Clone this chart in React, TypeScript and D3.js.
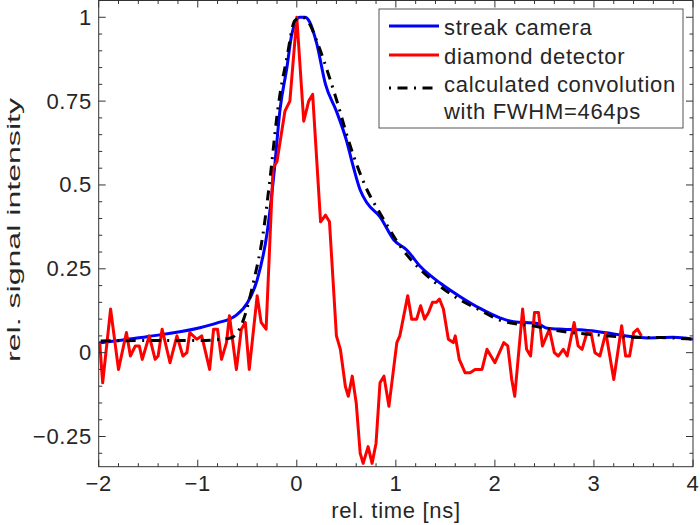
import { useEffect, useRef } from 'react'
import * as d3 from 'd3'

// streak camera (blue)
const streakTime = [-2, -1.5, -1, -0.81, -0.61, -0.5, -0.4, -0.3, -0.23, -0.17, -0.1, -0.05, 0.03, 0.08, 0.13, 0.2, 0.29, 0.4, 0.5, 0.57, 0.64, 0.71, 0.84, 0.98, 1.11, 1.25, 1.45, 1.65, 1.85, 2.05, 2.19, 2.42, 2.53, 2.69, 2.86, 3.03, 3.2, 3.37, 3.54, 3.8, 4]
const streakValue = [0.029, 0.048, 0.073, 0.088, 0.112, 0.148, 0.217, 0.357, 0.535, 0.723, 0.85, 0.95, 1.0, 1.0, 0.986, 0.923, 0.8, 0.72, 0.634, 0.555, 0.485, 0.446, 0.405, 0.336, 0.306, 0.256, 0.207, 0.167, 0.132, 0.104, 0.092, 0.088, 0.073, 0.07, 0.068, 0.063, 0.056, 0.048, 0.044, 0.046, 0.04]

// diamond detector (red)
const diamondTime = [-1.99, -1.96, -1.88, -1.8, -1.72, -1.68, -1.63, -1.59, -1.56, -1.49, -1.43, -1.4, -1.36, -1.28, -1.21, -1.15, -1.11, -1.08, -1.01, -0.96, -0.88, -0.84, -0.8, -0.76, -0.71, -0.68, -0.61, -0.56, -0.52, -0.48, -0.4, -0.36, -0.31, -0.24, -0.2, -0.12, -0.07, 0.0, 0.07, 0.12, 0.16, 0.24, 0.29, 0.33, 0.4, 0.44, 0.49, 0.52, 0.56, 0.6, 0.64, 0.67, 0.72, 0.76, 0.8, 0.84, 0.88, 0.93, 1.01, 1.04, 1.12, 1.16, 1.21, 1.25, 1.29, 1.33, 1.37, 1.41, 1.44, 1.48, 1.53, 1.58, 1.6, 1.64, 1.7, 1.75, 1.8, 1.87, 1.92, 2.0, 2.09, 2.13, 2.17, 2.2, 2.28, 2.32, 2.36, 2.4, 2.44, 2.48, 2.55, 2.6, 2.64, 2.69, 2.73, 2.8, 2.84, 2.88, 2.93, 2.97, 3.01, 3.06, 3.12, 3.2, 3.28, 3.32, 3.36, 3.4, 3.44, 3.48]
const diamondValue = [0.03, -0.09, 0.13, -0.05, 0.06, -0.01, 0.02, 0.02, -0.02, 0.05, -0.02, -0.01, 0.07, -0.03, 0.05, -0.01, 0.0, 0.06, 0.04, 0.05, -0.05, 0.07, 0.07, -0.02, 0.03, 0.11, -0.05, 0.07, 0.09, -0.05, 0.17, 0.09, 0.07, 0.55, 0.57, 0.72, 0.75, 1.0, 0.69, 0.75, 0.77, 0.39, 0.41, 0.39, 0.05, 0.01, -0.1, -0.13, -0.07, -0.15, -0.3, -0.33, -0.28, -0.33, -0.27, -0.09, -0.07, -0.16, 0.03, 0.05, 0.17, 0.1, 0.1, 0.14, 0.1, 0.12, 0.15, 0.15, 0.16, 0.13, 0.04, 0.03, 0.05, -0.02, -0.06, -0.06, -0.05, -0.05, 0.01, -0.03, 0.03, 0.02, -0.08, -0.13, 0.13, 0.01, -0.01, 0.12, 0.12, 0.02, 0.07, 0.0, -0.01, 0.01, -0.01, 0.09, 0.02, 0.01, 0.06, 0.06, 0.0, -0.01, 0.06, -0.08, 0.08, -0.01, -0.01, 0.06, 0.07, 0.05]

// calculated convolution (black dash-dot)
const convTime = [-1.98, -1.5, -1.0, -0.67, -0.54, -0.44, -0.34, -0.27, -0.19, -0.1, -0.02, 0.05, 0.13, 0.2, 0.4, 0.53, 0.71, 0.84, 1.05, 1.25, 1.45, 1.65, 1.85, 2.05, 2.42, 2.69, 3.03, 3.37, 3.67, 4]
const convValue = [0.035, 0.036, 0.036, 0.044, 0.097, 0.207, 0.356, 0.52, 0.73, 0.88, 0.99, 1.0, 0.98, 0.93, 0.755, 0.625, 0.485, 0.416, 0.315, 0.247, 0.197, 0.157, 0.127, 0.097, 0.078, 0.063, 0.053, 0.046, 0.045, 0.04]

const xTicks = [-2, -1, 0, 1, 2, 3, 4]
const yTicks = [-0.25, 0, 0.25, 0.5, 0.75, 1]
const legendLabels = ['streak camera', 'diamond detector', 'calculated convolution', 'with FWHM=464ps']

const FONT = '"Liberation Sans", Arial, sans-serif'
const AXIS = '#333333'

export default function App() {
  const svgRef = useRef<SVGSVGElement>(null)

  useEffect(() => {
    if (!svgRef.current) return
    const svg = d3.select(svgRef.current)
    svg.selectAll('*').remove()

    const left = 98.7, right = 693, top = 0.5, bottom = 466.7
    const x = d3.scaleLinear().domain([-2, 4]).range([left, right])
    const y = d3.scaleLinear().domain([-0.34, 1.05]).range([bottom, top])

    svg.append('defs').append('clipPath').attr('id', 'plot-clip')
      .append('rect').attr('x', left).attr('y', top).attr('width', right - left).attr('height', bottom - top)

    const line = d3.line<[number, number]>()
      .x(d => x(d[0]))
      .y(d => y(d[1]))

    const plot = svg.append('g').attr('clip-path', 'url(#plot-clip)')

    plot.append('path')
      .datum(streakTime.map((t, i) => [t, streakValue[i]] as [number, number]))
      .attr('fill', 'none')
      .attr('stroke', '#0000ff')
      .attr('stroke-width', 3)
      .attr('d', line.curve(d3.curveMonotoneX))

    plot.append('path')
      .datum(diamondTime.map((t, i) => [t, diamondValue[i]] as [number, number]))
      .attr('fill', 'none')
      .attr('stroke', '#ff0000')
      .attr('stroke-width', 3)
      .attr('stroke-linejoin', 'round')
      .attr('d', line.curve(d3.curveLinear))

    plot.append('path')
      .datum(convTime.map((t, i) => [t, convValue[i]] as [number, number]))
      .attr('fill', 'none')
      .attr('stroke', '#000000')
      .attr('stroke-width', 3)
      .attr('stroke-dasharray', '10,6.5,2,6.5')
      .attr('d', line.curve(d3.curveMonotoneX))

    // frame
    svg.append('rect')
      .attr('x', left).attr('y', top)
      .attr('width', right - left).attr('height', bottom - top)
      .attr('fill', 'none').attr('stroke', AXIS).attr('stroke-width', 1)

    // inward ticks on all four sides
    const ticks = svg.append('g').attr('stroke', AXIS).attr('stroke-width', 1)
    const xMinor = d3.range(-2, 4.001, 0.2)
    const yMinor = d3.range(-0.3, 1.051, 0.05)
    xMinor.forEach(v => {
      const major = xTicks.some(t => Math.abs(t - v) < 1e-6)
      const len = major ? 7 : 3.5
      ticks.append('line').attr('x1', x(v)).attr('x2', x(v)).attr('y1', bottom).attr('y2', bottom - len)
      ticks.append('line').attr('x1', x(v)).attr('x2', x(v)).attr('y1', top).attr('y2', top + len)
    })
    yMinor.forEach(v => {
      const major = yTicks.some(t => Math.abs(t - v) < 1e-6)
      const len = major ? 7 : 3.5
      ticks.append('line').attr('y1', y(v)).attr('y2', y(v)).attr('x1', left).attr('x2', left + len)
      ticks.append('line').attr('y1', y(v)).attr('y2', y(v)).attr('x1', right).attr('x2', right - len)
    })

    const fmt = (v: number) => String(v).replace('-', '\u2212')

    svg.append('g').selectAll('text').data(xTicks).join('text')
      .attr('x', d => x(d))
      .attr('y', 491)
      .attr('text-anchor', 'middle')
      .attr('font-family', FONT).attr('font-size', 22).attr('letter-spacing', 0.7)
      .attr('fill', '#262626')
      .text(d => fmt(d))

    svg.append('g').selectAll('text').data(yTicks).join('text')
      .attr('x', 92)
      .attr('y', d => y(d) + 7.5)
      .attr('text-anchor', 'end')
      .attr('font-family', FONT).attr('font-size', 22).attr('letter-spacing', 0.7)
      .attr('fill', '#262626')
      .text(d => fmt(d))

    svg.append('text')
      .attr('x', 396).attr('y', 518)
      .attr('text-anchor', 'middle')
      .attr('font-family', FONT).attr('font-size', 22).attr('letter-spacing', 0.7)
      .attr('fill', '#262626')
      .text('rel. time [ns]')

    svg.append('text')
      .attr('transform', 'translate(20,230) rotate(-90)')
      .attr('text-anchor', 'middle')
      .attr('font-family', FONT).attr('font-size', 19)
      .attr('textLength', 264).attr('lengthAdjust', 'spacingAndGlyphs')
      .attr('fill', '#262626')
      .text('rel. signal intensity')

    // legend
    const lg = svg.append('g')
    lg.append('rect')
      .attr('x', 379).attr('y', 9).attr('width', 304).attr('height', 119)
      .attr('fill', '#ffffff').attr('stroke', '#555555').attr('stroke-width', 1)
    const samples = [
      { y: 26, color: '#0000ff', dash: null },
      { y: 55, color: '#ff0000', dash: null },
      { y: 88, color: '#000000', dash: '2,6.5,10,6.5' }
    ]
    samples.forEach(s => {
      const l = lg.append('line')
        .attr('x1', 389).attr('x2', 439).attr('y1', s.y).attr('y2', s.y)
        .attr('stroke', s.color).attr('stroke-width', 3)
      if (s.dash) l.attr('stroke-dasharray', s.dash)
    })
    const baselines = [35, 64, 92, 119]
    legendLabels.forEach((txt, i) => {
      lg.append('text')
        .attr('x', 444).attr('y', baselines[i])
        .attr('font-family', FONT).attr('font-size', 22).attr('letter-spacing', 0.7)
        .attr('fill', '#262626')
        .text(txt)
    })
  }, [])

  return (
    <svg
      ref={svgRef}
      width={700}
      height={525}
      style={{ position: 'absolute', left: 0, top: 0, background: '#ffffff' }}
    />
  )
}
